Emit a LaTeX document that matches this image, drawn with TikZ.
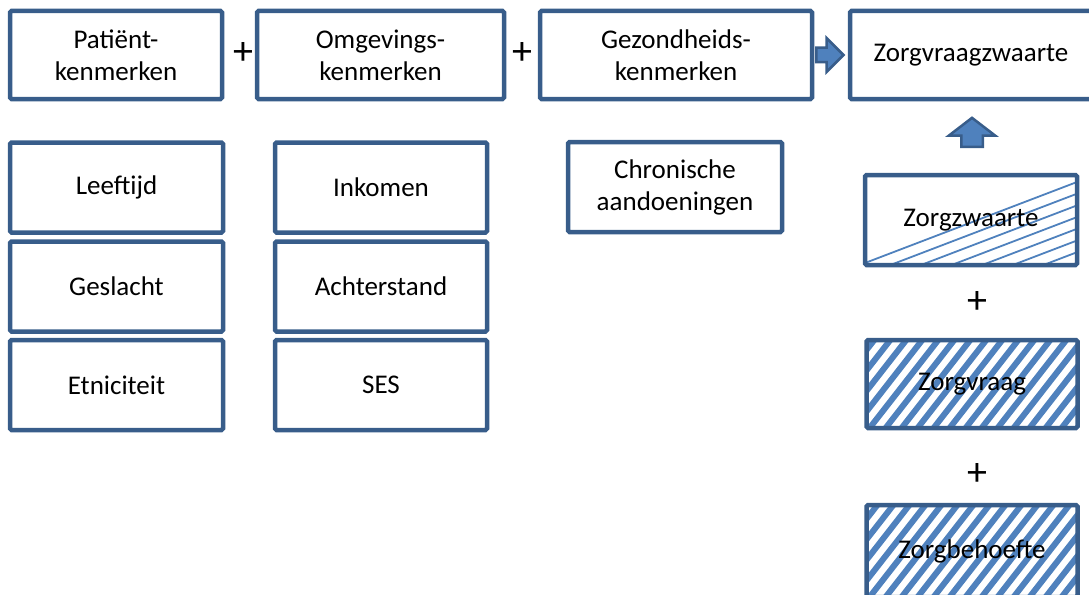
\documentclass[tikz,border=0pt]{standalone}
\usepackage{fontspec}
\setmainfont{Carlito}
\usetikzlibrary{positioning,shapes.arrows,calc}

\definecolor{randblauw}{RGB}{56,93,138}
\definecolor{vlakblauw}{RGB}{79,129,189}

\tikzset{
  kader/.style={draw=randblauw, line width=4.5pt, rounded corners=1.5pt,
    minimum width=212pt, minimum height=90pt, inner sep=0pt,
    align=center, font=\fontsize{27}{32}\selectfont},
  plusteken/.style={inner sep=0pt, font=\fontsize{40}{40}\selectfont},
  blokpijl/.style={single arrow, draw=randblauw, fill=vlakblauw,
    line width=2.5pt, inner sep=0pt},
  % dunne schuine lijnen onder de diagonaal
  lijnvlak/.style={path picture={
    \foreach \k in {0,...,7}
      \draw[vlakblauw, line width=1.8pt]
        ([yshift=83pt-\k*11.7pt]path picture bounding box.south east) -- ++(-240pt,-91.7pt);
  }},
  % brede schuine strepen
  streepvlak/.style={path picture={
    \foreach \k in {-6,...,14}
      \draw[vlakblauw, line width=6pt]
        ([xshift=\k*16pt, yshift=-4pt]path picture bounding box.south west) -- ++(78pt,100pt);
  }}
}

\begin{document}
\begin{tikzpicture}[x=1pt, y=-1pt]
  \useasboundingbox (0,0) rectangle (1089,594);
  \clip (0,0) rectangle (1089,594);

  % Bovenste rij
  \node[kader, minimum height=88pt] (patient) at (116,55) {Patiënt-\\kenmerken};
  \node[kader, minimum height=88pt, minimum width=247pt] (omgeving) at (380.5,55) {Omgevings-\\kenmerken};
  \node[kader, minimum height=88pt, minimum width=272pt] (gezond) at (676,55) {Gezondheids-\\kenmerken};
  \node[kader, minimum height=88pt, minimum width=242pt] (zvz) at (971,55) {Zorgvraagzwaarte};

  \node[plusteken] (plus1) at (243,54) {+};
  \node[plusteken] (plus2) at (522,54) {+};

  % Patientkenmerken
  \node[kader, minimum width=213pt] (leeftijd) at (116.5,187.5) {Leeftijd};
  \node[kader, minimum width=213pt] (geslacht) at (116.5,286.5) {Geslacht};
  \node[kader, minimum width=213pt] (etniciteit) at (116.5,385) {Etniciteit};

  % Omgevingskenmerken
  \node[kader] (inkomen) at (381,187.5) {Inkomen};
  \node[kader] (achterstand) at (381,286.5) {Achterstand};
  \node[kader] (ses) at (381,385) {SES};

  % Gezondheidskenmerken
  \node[kader, minimum width=214pt] (chronisch) at (675,187) {Chronische\\aandoeningen};

  % Rechterkolom
  \node[kader, lijnvlak] (zorgzwaarte) at (971,220) {Zorgzwaarte};
  \node[plusteken] (plus3) at (977,303) {+};
  \node[kader, streepvlak, minimum width=211pt, minimum height=88pt] (zorgvraag) at (972,384) {Zorgvraag};
  \node[plusteken] (plus4) at (977,474) {+};
  \node[kader, streepvlak, minimum width=211pt, minimum height=92pt] (zorgbehoefte) at (972,551) {Zorgbehoefte};

  % Pijlen
  \node[blokpijl, anchor=tip, minimum height=27pt, single arrow head extend=9.5pt,
    inner ysep=6pt] (pijl1) at ([xshift=-2.5pt]zvz.west) {};
  \node[blokpijl, anchor=tip, rotate=90, minimum height=29pt, single arrow head extend=12.5pt,
    single arrow tip angle=105, inner ysep=9.5pt] (pijl2) at ([xshift=1pt, yshift=-15pt]zvz.south) {};
\end{tikzpicture}
\end{document}
